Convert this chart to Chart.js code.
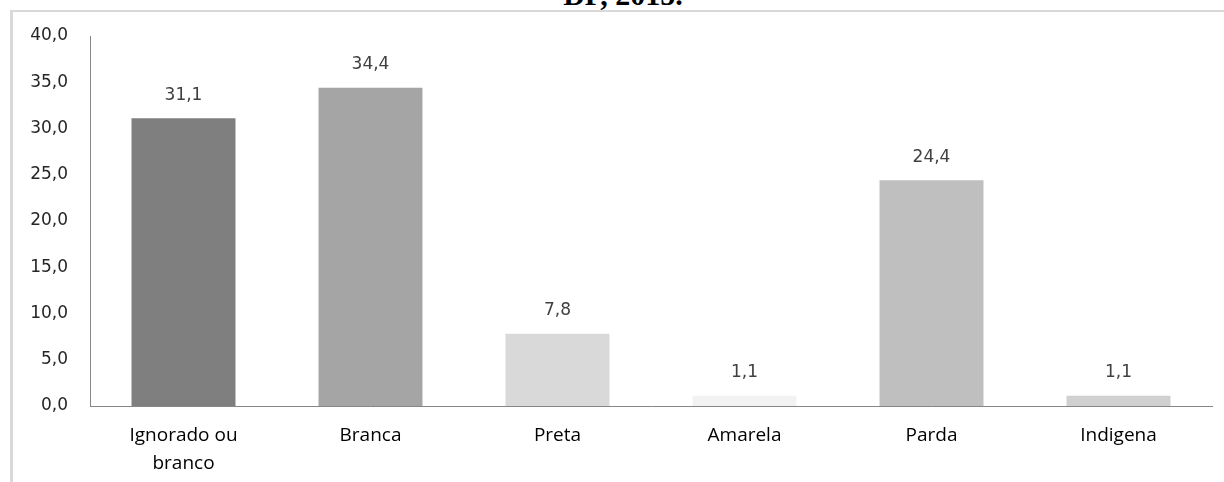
<!DOCTYPE html>
<html>
<head>
<meta charset="utf-8">
<script src="https://cdn.jsdelivr.net/npm/chart.js@4"></script>
<style>
  html, body { margin: 0; padding: 0; background: #fff; overflow: hidden; }
  #frame {
    position: absolute; left: 10px; top: 10px; width: 1300px; height: 600px;
    border-top: 2px solid #d9d9d9; border-left: 3px solid #d9d9d9;
  }
  #title {
    position: absolute; left: 0; top: -20px; width: 1246px; text-align: center;
    font: bold 30px/30px "Liberation Serif", serif; color: #000;
  }
  #wrap { position: absolute; left: 0; top: 0; width: 1224px; height: 482px; }
</style>
</head>
<body>
<div id="title">DF, 2015.</div>
<div id="frame"></div>
<div id="wrap"><canvas id="chart"></canvas></div>
<script>
// Race/colour breakdown, percent
const categories = [["Ignorado ou", "branco"], "Branca", "Preta", "Amarela", "Parda", "Indigena"];
const values     = [31.1, 34.4, 7.8, 1.1, 24.4, 1.1];
const barColors  = ["#7f7f7f", "#a5a5a5", "#d9d9d9", "#f2f2f2", "#bfbfbf", "#d0d0d0"];
const yTicks     = [0, 5, 10, 15, 20, 25, 30, 35, 40];

function fmtComma(v) {
  return Number(v).toFixed(1).replace(".", ",");
}

// Writes the value above each bar, using the bar positions from the chart
const valueLabels = {
  id: "valueLabels",
  afterDatasetsDraw: function (chart) {
    const ctx = chart.ctx;
    const meta = chart.getDatasetMeta(0);
    ctx.save();
    ctx.font = '17px "DejaVu Sans"';
    ctx.fillStyle = "#404040";
    ctx.textAlign = "center";
    ctx.textBaseline = "middle";
    meta.data.forEach(function (bar, i) {
      ctx.fillText(fmtComma(values[i]), bar.x, bar.y - 23);
    });
    ctx.restore();
  }
};

new Chart(document.getElementById("chart"), {
  type: "bar",
  data: {
    labels: categories,
    datasets: [{
      data: values,
      backgroundColor: barColors,
      borderWidth: 0,
      barPercentage: 0.556,
      categoryPercentage: 1
    }]
  },
  options: {
    responsive: true,
    maintainAspectRatio: false,
    animation: false,
    layout: { padding: { left: 0, right: 12, top: 36, bottom: 0 } },
    plugins: {
      legend: { display: false },
      tooltip: { enabled: false }
    },
    scales: {
      x: {
        afterFit: function (scale) { scale.height = 76; },
        grid: { display: false, drawTicks: false },
        border: { display: true, color: "#868686", width: 1 },
        ticks: {
          color: "#000",
          padding: 16,
          maxRotation: 0,
          font: { family: "Open Sans", size: 19, lineHeight: 1.45 }
        }
      },
      y: {
        min: 0,
        max: 40,
        afterFit: function (scale) { scale.width = 90; },
        afterBuildTicks: function (scale) {
          scale.ticks = yTicks.map(function (v) { return { value: v }; });
        },
        grid: { display: false, drawTicks: false },
        border: { display: true, color: "#868686", width: 1 },
        ticks: {
          color: "#262626",
          padding: 22,
          font: { family: "DejaVu Sans", size: 17 },
          callback: function (v) { return fmtComma(v); }
        }
      }
    }
  },
  plugins: [valueLabels]
});
</script>
</body>
</html>
